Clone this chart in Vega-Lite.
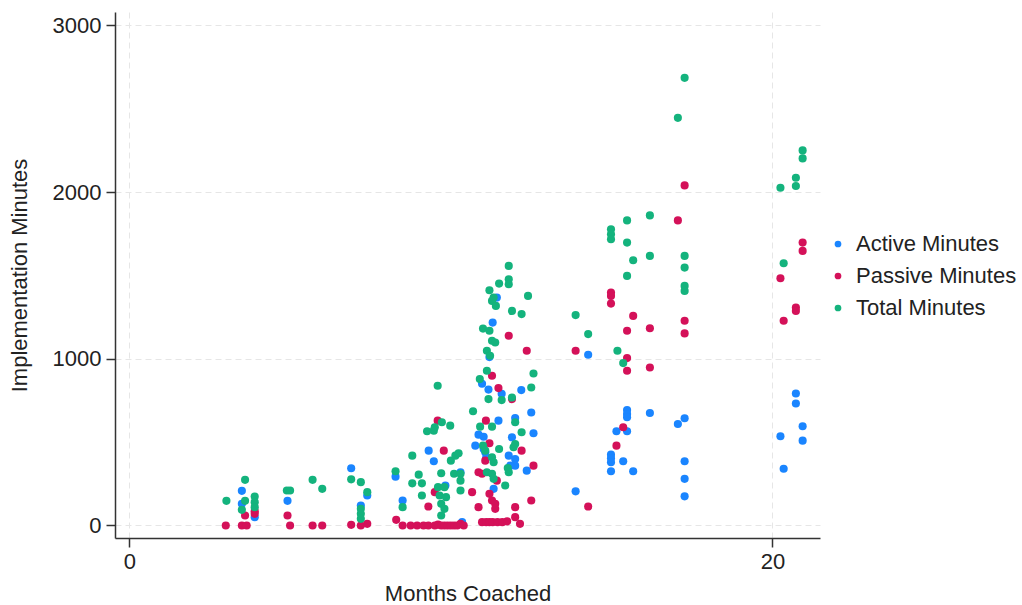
{
  "$schema": "https://vega.github.io/schema/vega-lite/v6.json",
  "width": 705,
  "height": 526,
  "autosize": {"type": "none"},
  "padding": {"left": 115, "top": 12, "right": 202, "bottom": 67},
  "background": "white",
  "config": {
    "view": {"stroke": null},
    "font": "Liberation Sans",
    "axis": {
      "labelFont": "Liberation Sans",
      "titleFont": "Liberation Sans",
      "labelFontSize": 22,
      "titleFontSize": 22,
      "titleFontWeight": "normal",
      "labelColor": "#222222",
      "titleColor": "#222222",
      "domainColor": "#333333",
      "tickColor": "#333333",
      "domainWidth": 1.5,
      "tickWidth": 1.5,
      "tickSize": 9,
      "gridColor": "#e6e6e6",
      "gridDash": [6, 4],
      "gridWidth": 1
    },
    "legend": {
      "labelFont": "Liberation Sans",
      "labelFontSize": 22,
      "labelColor": "#222222",
      "labelLimit": 0
    }
  },
  "data": {
    "values": [
      {"months": 3.5, "minutes": 208, "series": "Active Minutes"},
      {"months": 3.5, "minutes": 130, "series": "Active Minutes"},
      {"months": 3.9, "minutes": 50, "series": "Active Minutes"},
      {"months": 4.92, "minutes": 148, "series": "Active Minutes"},
      {"months": 6.9, "minutes": 343, "series": "Active Minutes"},
      {"months": 7.4, "minutes": 180, "series": "Active Minutes"},
      {"months": 7.2, "minutes": 120, "series": "Active Minutes"},
      {"months": 8.28, "minutes": 293, "series": "Active Minutes"},
      {"months": 8.5, "minutes": 150, "series": "Active Minutes"},
      {"months": 9.31, "minutes": 449, "series": "Active Minutes"},
      {"months": 9.47, "minutes": 385, "series": "Active Minutes"},
      {"months": 9.83, "minutes": 240, "series": "Active Minutes"},
      {"months": 10.3, "minutes": 319, "series": "Active Minutes"},
      {"months": 10.35, "minutes": 20, "series": "Active Minutes"},
      {"months": 10.76, "minutes": 479, "series": "Active Minutes"},
      {"months": 11.02, "minutes": 459, "series": "Active Minutes"},
      {"months": 10.86, "minutes": 545, "series": "Active Minutes"},
      {"months": 11.02, "minutes": 532, "series": "Active Minutes"},
      {"months": 11.9, "minutes": 529, "series": "Active Minutes"},
      {"months": 12.57, "minutes": 553, "series": "Active Minutes"},
      {"months": 11.07, "minutes": 439, "series": "Active Minutes"},
      {"months": 11.1, "minutes": 409, "series": "Active Minutes"},
      {"months": 11.8, "minutes": 419, "series": "Active Minutes"},
      {"months": 12.0, "minutes": 399, "series": "Active Minutes"},
      {"months": 12.0, "minutes": 359, "series": "Active Minutes"},
      {"months": 11.85, "minutes": 359, "series": "Active Minutes"},
      {"months": 12.36, "minutes": 329, "series": "Active Minutes"},
      {"months": 11.33, "minutes": 220, "series": "Active Minutes"},
      {"months": 11.48, "minutes": 629, "series": "Active Minutes"},
      {"months": 12.0, "minutes": 645, "series": "Active Minutes"},
      {"months": 12.5, "minutes": 678, "series": "Active Minutes"},
      {"months": 10.97, "minutes": 850, "series": "Active Minutes"},
      {"months": 11.17, "minutes": 815, "series": "Active Minutes"},
      {"months": 11.58, "minutes": 790, "series": "Active Minutes"},
      {"months": 12.19, "minutes": 812, "series": "Active Minutes"},
      {"months": 11.2, "minutes": 1010, "series": "Active Minutes"},
      {"months": 11.3, "minutes": 1217, "series": "Active Minutes"},
      {"months": 11.43, "minutes": 1367, "series": "Active Minutes"},
      {"months": 13.88, "minutes": 205, "series": "Active Minutes"},
      {"months": 14.27, "minutes": 1024, "series": "Active Minutes"},
      {"months": 14.98, "minutes": 425, "series": "Active Minutes"},
      {"months": 14.98, "minutes": 403, "series": "Active Minutes"},
      {"months": 14.98, "minutes": 379, "series": "Active Minutes"},
      {"months": 14.98, "minutes": 325, "series": "Active Minutes"},
      {"months": 15.15, "minutes": 565, "series": "Active Minutes"},
      {"months": 15.36, "minutes": 385, "series": "Active Minutes"},
      {"months": 15.48, "minutes": 565, "series": "Active Minutes"},
      {"months": 15.48, "minutes": 693, "series": "Active Minutes"},
      {"months": 15.48, "minutes": 669, "series": "Active Minutes"},
      {"months": 15.48, "minutes": 649, "series": "Active Minutes"},
      {"months": 15.67, "minutes": 325, "series": "Active Minutes"},
      {"months": 16.19, "minutes": 675, "series": "Active Minutes"},
      {"months": 17.06, "minutes": 609, "series": "Active Minutes"},
      {"months": 17.27, "minutes": 643, "series": "Active Minutes"},
      {"months": 17.27, "minutes": 385, "series": "Active Minutes"},
      {"months": 17.27, "minutes": 280, "series": "Active Minutes"},
      {"months": 17.27, "minutes": 175, "series": "Active Minutes"},
      {"months": 20.25, "minutes": 535, "series": "Active Minutes"},
      {"months": 20.35, "minutes": 340, "series": "Active Minutes"},
      {"months": 20.73, "minutes": 792, "series": "Active Minutes"},
      {"months": 20.73, "minutes": 732, "series": "Active Minutes"},
      {"months": 20.94, "minutes": 595, "series": "Active Minutes"},
      {"months": 20.94, "minutes": 509, "series": "Active Minutes"},

      {"months": 3.0, "minutes": 0, "series": "Passive Minutes"},
      {"months": 3.5, "minutes": 0, "series": "Passive Minutes"},
      {"months": 3.65, "minutes": 0, "series": "Passive Minutes"},
      {"months": 3.6, "minutes": 60, "series": "Passive Minutes"},
      {"months": 3.9, "minutes": 86, "series": "Passive Minutes"},
      {"months": 3.9, "minutes": 70, "series": "Passive Minutes"},
      {"months": 4.92, "minutes": 60, "series": "Passive Minutes"},
      {"months": 5.0, "minutes": 0, "series": "Passive Minutes"},
      {"months": 5.7, "minutes": 0, "series": "Passive Minutes"},
      {"months": 6.0, "minutes": 0, "series": "Passive Minutes"},
      {"months": 6.9, "minutes": 4, "series": "Passive Minutes"},
      {"months": 7.2, "minutes": 0, "series": "Passive Minutes"},
      {"months": 7.4, "minutes": 10, "series": "Passive Minutes"},
      {"months": 8.3, "minutes": 34, "series": "Passive Minutes"},
      {"months": 8.5, "minutes": 0, "series": "Passive Minutes"},
      {"months": 8.75, "minutes": 0, "series": "Passive Minutes"},
      {"months": 8.95, "minutes": 0, "series": "Passive Minutes"},
      {"months": 9.15, "minutes": 0, "series": "Passive Minutes"},
      {"months": 9.3, "minutes": 114, "series": "Passive Minutes"},
      {"months": 9.3, "minutes": 0, "series": "Passive Minutes"},
      {"months": 9.5, "minutes": 200, "series": "Passive Minutes"},
      {"months": 9.5, "minutes": 0, "series": "Passive Minutes"},
      {"months": 9.6, "minutes": 5, "series": "Passive Minutes"},
      {"months": 9.7, "minutes": 0, "series": "Passive Minutes"},
      {"months": 9.8, "minutes": 0, "series": "Passive Minutes"},
      {"months": 9.9, "minutes": 0, "series": "Passive Minutes"},
      {"months": 10.0, "minutes": 0, "series": "Passive Minutes"},
      {"months": 10.1, "minutes": 0, "series": "Passive Minutes"},
      {"months": 10.2, "minutes": 0, "series": "Passive Minutes"},
      {"months": 10.3, "minutes": 10, "series": "Passive Minutes"},
      {"months": 10.4, "minutes": 0, "series": "Passive Minutes"},
      {"months": 9.59, "minutes": 629, "series": "Passive Minutes"},
      {"months": 9.78, "minutes": 449, "series": "Passive Minutes"},
      {"months": 10.66, "minutes": 200, "series": "Passive Minutes"},
      {"months": 10.86, "minutes": 319, "series": "Passive Minutes"},
      {"months": 10.86, "minutes": 110, "series": "Passive Minutes"},
      {"months": 10.97, "minutes": 20, "series": "Passive Minutes"},
      {"months": 11.1, "minutes": 20, "series": "Passive Minutes"},
      {"months": 11.2, "minutes": 20, "series": "Passive Minutes"},
      {"months": 11.3, "minutes": 20, "series": "Passive Minutes"},
      {"months": 11.45, "minutes": 20, "series": "Passive Minutes"},
      {"months": 11.6, "minutes": 20, "series": "Passive Minutes"},
      {"months": 11.75, "minutes": 25, "series": "Passive Minutes"},
      {"months": 11.2, "minutes": 190, "series": "Passive Minutes"},
      {"months": 11.28, "minutes": 150, "series": "Passive Minutes"},
      {"months": 11.38, "minutes": 130, "series": "Passive Minutes"},
      {"months": 11.38, "minutes": 100, "series": "Passive Minutes"},
      {"months": 12.0, "minutes": 110, "series": "Passive Minutes"},
      {"months": 12.5, "minutes": 150, "series": "Passive Minutes"},
      {"months": 12.0, "minutes": 50, "series": "Passive Minutes"},
      {"months": 12.15, "minutes": 10, "series": "Passive Minutes"},
      {"months": 11.43, "minutes": 269, "series": "Passive Minutes"},
      {"months": 10.97, "minutes": 310, "series": "Passive Minutes"},
      {"months": 11.07, "minutes": 389, "series": "Passive Minutes"},
      {"months": 12.2, "minutes": 449, "series": "Passive Minutes"},
      {"months": 12.57, "minutes": 359, "series": "Passive Minutes"},
      {"months": 11.2, "minutes": 493, "series": "Passive Minutes"},
      {"months": 11.09, "minutes": 629, "series": "Passive Minutes"},
      {"months": 11.48, "minutes": 824, "series": "Passive Minutes"},
      {"months": 11.28, "minutes": 898, "series": "Passive Minutes"},
      {"months": 11.9, "minutes": 758, "series": "Passive Minutes"},
      {"months": 12.36, "minutes": 1048, "series": "Passive Minutes"},
      {"months": 11.8, "minutes": 1138, "series": "Passive Minutes"},
      {"months": 13.88, "minutes": 1048, "series": "Passive Minutes"},
      {"months": 14.27, "minutes": 114, "series": "Passive Minutes"},
      {"months": 14.98, "minutes": 1397, "series": "Passive Minutes"},
      {"months": 14.98, "minutes": 1377, "series": "Passive Minutes"},
      {"months": 14.98, "minutes": 1331, "series": "Passive Minutes"},
      {"months": 15.15, "minutes": 479, "series": "Passive Minutes"},
      {"months": 15.36, "minutes": 589, "series": "Passive Minutes"},
      {"months": 15.48, "minutes": 1168, "series": "Passive Minutes"},
      {"months": 15.48, "minutes": 1004, "series": "Passive Minutes"},
      {"months": 15.48, "minutes": 928, "series": "Passive Minutes"},
      {"months": 15.67, "minutes": 1257, "series": "Passive Minutes"},
      {"months": 16.19, "minutes": 1183, "series": "Passive Minutes"},
      {"months": 16.19, "minutes": 948, "series": "Passive Minutes"},
      {"months": 17.06, "minutes": 1830, "series": "Passive Minutes"},
      {"months": 17.27, "minutes": 2040, "series": "Passive Minutes"},
      {"months": 17.27, "minutes": 1228, "series": "Passive Minutes"},
      {"months": 17.27, "minutes": 1152, "series": "Passive Minutes"},
      {"months": 20.25, "minutes": 1483, "series": "Passive Minutes"},
      {"months": 20.35, "minutes": 1228, "series": "Passive Minutes"},
      {"months": 20.73, "minutes": 1307, "series": "Passive Minutes"},
      {"months": 20.73, "minutes": 1287, "series": "Passive Minutes"},
      {"months": 20.94, "minutes": 1697, "series": "Passive Minutes"},
      {"months": 20.94, "minutes": 1647, "series": "Passive Minutes"},

      {"months": 3.02, "minutes": 148, "series": "Total Minutes"},
      {"months": 3.6, "minutes": 274, "series": "Total Minutes"},
      {"months": 3.6, "minutes": 148, "series": "Total Minutes"},
      {"months": 3.5, "minutes": 94, "series": "Total Minutes"},
      {"months": 3.9, "minutes": 174, "series": "Total Minutes"},
      {"months": 3.9, "minutes": 140, "series": "Total Minutes"},
      {"months": 3.9, "minutes": 110, "series": "Total Minutes"},
      {"months": 4.9, "minutes": 210, "series": "Total Minutes"},
      {"months": 5.0, "minutes": 210, "series": "Total Minutes"},
      {"months": 5.7, "minutes": 274, "series": "Total Minutes"},
      {"months": 6.0, "minutes": 220, "series": "Total Minutes"},
      {"months": 6.9, "minutes": 277, "series": "Total Minutes"},
      {"months": 7.2, "minutes": 260, "series": "Total Minutes"},
      {"months": 7.4, "minutes": 200, "series": "Total Minutes"},
      {"months": 7.2, "minutes": 100, "series": "Total Minutes"},
      {"months": 7.2, "minutes": 70, "series": "Total Minutes"},
      {"months": 7.2, "minutes": 40, "series": "Total Minutes"},
      {"months": 8.28, "minutes": 325, "series": "Total Minutes"},
      {"months": 8.5, "minutes": 110, "series": "Total Minutes"},
      {"months": 8.8, "minutes": 419, "series": "Total Minutes"},
      {"months": 9.0, "minutes": 305, "series": "Total Minutes"},
      {"months": 8.8, "minutes": 253, "series": "Total Minutes"},
      {"months": 9.1, "minutes": 253, "series": "Total Minutes"},
      {"months": 9.1, "minutes": 180, "series": "Total Minutes"},
      {"months": 9.7, "minutes": 313, "series": "Total Minutes"},
      {"months": 10.0, "minutes": 389, "series": "Total Minutes"},
      {"months": 10.14, "minutes": 419, "series": "Total Minutes"},
      {"months": 10.24, "minutes": 433, "series": "Total Minutes"},
      {"months": 10.1, "minutes": 310, "series": "Total Minutes"},
      {"months": 10.3, "minutes": 310, "series": "Total Minutes"},
      {"months": 10.3, "minutes": 269, "series": "Total Minutes"},
      {"months": 10.3, "minutes": 210, "series": "Total Minutes"},
      {"months": 9.6, "minutes": 230, "series": "Total Minutes"},
      {"months": 9.8, "minutes": 230, "series": "Total Minutes"},
      {"months": 9.65, "minutes": 180, "series": "Total Minutes"},
      {"months": 9.85, "minutes": 170, "series": "Total Minutes"},
      {"months": 9.7, "minutes": 130, "series": "Total Minutes"},
      {"months": 9.8, "minutes": 100, "series": "Total Minutes"},
      {"months": 9.7, "minutes": 60, "series": "Total Minutes"},
      {"months": 9.59, "minutes": 838, "series": "Total Minutes"},
      {"months": 9.72, "minutes": 619, "series": "Total Minutes"},
      {"months": 9.98, "minutes": 599, "series": "Total Minutes"},
      {"months": 9.26, "minutes": 565, "series": "Total Minutes"},
      {"months": 9.47, "minutes": 569, "series": "Total Minutes"},
      {"months": 9.5, "minutes": 589, "series": "Total Minutes"},
      {"months": 10.69, "minutes": 685, "series": "Total Minutes"},
      {"months": 10.9, "minutes": 878, "series": "Total Minutes"},
      {"months": 11.12, "minutes": 928, "series": "Total Minutes"},
      {"months": 11.12, "minutes": 1048, "series": "Total Minutes"},
      {"months": 11.22, "minutes": 1018, "series": "Total Minutes"},
      {"months": 11.17, "minutes": 758, "series": "Total Minutes"},
      {"months": 11.58, "minutes": 752, "series": "Total Minutes"},
      {"months": 11.9, "minutes": 768, "series": "Total Minutes"},
      {"months": 12.5, "minutes": 828, "series": "Total Minutes"},
      {"months": 12.57, "minutes": 912, "series": "Total Minutes"},
      {"months": 10.91, "minutes": 593, "series": "Total Minutes"},
      {"months": 11.28, "minutes": 593, "series": "Total Minutes"},
      {"months": 12.0, "minutes": 619, "series": "Total Minutes"},
      {"months": 12.2, "minutes": 559, "series": "Total Minutes"},
      {"months": 12.0, "minutes": 489, "series": "Total Minutes"},
      {"months": 11.95, "minutes": 469, "series": "Total Minutes"},
      {"months": 11.0, "minutes": 479, "series": "Total Minutes"},
      {"months": 11.07, "minutes": 449, "series": "Total Minutes"},
      {"months": 11.5, "minutes": 459, "series": "Total Minutes"},
      {"months": 11.28, "minutes": 409, "series": "Total Minutes"},
      {"months": 11.33, "minutes": 379, "series": "Total Minutes"},
      {"months": 11.77, "minutes": 345, "series": "Total Minutes"},
      {"months": 11.8, "minutes": 319, "series": "Total Minutes"},
      {"months": 11.12, "minutes": 319, "series": "Total Minutes"},
      {"months": 11.28, "minutes": 310, "series": "Total Minutes"},
      {"months": 11.33, "minutes": 280, "series": "Total Minutes"},
      {"months": 11.69, "minutes": 240, "series": "Total Minutes"},
      {"months": 11.0, "minutes": 1181, "series": "Total Minutes"},
      {"months": 11.2, "minutes": 1168, "series": "Total Minutes"},
      {"months": 11.28, "minutes": 1108, "series": "Total Minutes"},
      {"months": 11.38, "minutes": 1098, "series": "Total Minutes"},
      {"months": 11.33, "minutes": 1367, "series": "Total Minutes"},
      {"months": 11.28, "minutes": 1347, "series": "Total Minutes"},
      {"months": 11.4, "minutes": 1317, "series": "Total Minutes"},
      {"months": 11.2, "minutes": 1411, "series": "Total Minutes"},
      {"months": 11.5, "minutes": 1451, "series": "Total Minutes"},
      {"months": 11.8, "minutes": 1477, "series": "Total Minutes"},
      {"months": 11.8, "minutes": 1447, "series": "Total Minutes"},
      {"months": 11.8, "minutes": 1557, "series": "Total Minutes"},
      {"months": 11.9, "minutes": 1287, "series": "Total Minutes"},
      {"months": 12.2, "minutes": 1268, "series": "Total Minutes"},
      {"months": 12.4, "minutes": 1377, "series": "Total Minutes"},
      {"months": 13.88, "minutes": 1262, "series": "Total Minutes"},
      {"months": 14.27, "minutes": 1148, "series": "Total Minutes"},
      {"months": 14.98, "minutes": 1777, "series": "Total Minutes"},
      {"months": 14.98, "minutes": 1747, "series": "Total Minutes"},
      {"months": 14.98, "minutes": 1717, "series": "Total Minutes"},
      {"months": 15.18, "minutes": 1048, "series": "Total Minutes"},
      {"months": 15.36, "minutes": 974, "series": "Total Minutes"},
      {"months": 15.48, "minutes": 1830, "series": "Total Minutes"},
      {"months": 15.48, "minutes": 1697, "series": "Total Minutes"},
      {"months": 15.48, "minutes": 1497, "series": "Total Minutes"},
      {"months": 15.67, "minutes": 1591, "series": "Total Minutes"},
      {"months": 16.19, "minutes": 1860, "series": "Total Minutes"},
      {"months": 16.19, "minutes": 1617, "series": "Total Minutes"},
      {"months": 17.06, "minutes": 2445, "series": "Total Minutes"},
      {"months": 17.27, "minutes": 2685, "series": "Total Minutes"},
      {"months": 17.27, "minutes": 1617, "series": "Total Minutes"},
      {"months": 17.27, "minutes": 1547, "series": "Total Minutes"},
      {"months": 17.27, "minutes": 1437, "series": "Total Minutes"},
      {"months": 17.27, "minutes": 1407, "series": "Total Minutes"},
      {"months": 20.25, "minutes": 2026, "series": "Total Minutes"},
      {"months": 20.35, "minutes": 1573, "series": "Total Minutes"},
      {"months": 20.73, "minutes": 2086, "series": "Total Minutes"},
      {"months": 20.73, "minutes": 2036, "series": "Total Minutes"},
      {"months": 20.94, "minutes": 2250, "series": "Total Minutes"},
      {"months": 20.94, "minutes": 2202, "series": "Total Minutes"}
    ]
  },
  "mark": {"type": "circle", "size": 66, "opacity": 1},
  "encoding": {
    "x": {
      "field": "months",
      "type": "quantitative",
      "title": "Months Coached",
      "scale": {"domain": [-0.445, 21.48], "nice": false, "zero": false},
      "axis": {"values": [0, 20], "format": "d", "grid": true, "labelPadding": 4, "titlePadding": 11, "labelFlush": false}
    },
    "y": {
      "field": "minutes",
      "type": "quantitative",
      "title": "Implementation Minutes",
      "scale": {"domain": [-75, 3080], "nice": false, "zero": false},
      "axis": {"values": [0, 1000, 2000, 3000], "format": "d", "grid": true, "labelPadding": 5, "titlePadding": 21, "labelFlush": false}
    },
    "color": {
      "field": "series",
      "type": "nominal",
      "scale": {
        "domain": ["Active Minutes", "Passive Minutes", "Total Minutes"],
        "range": ["#1a85ff", "#d41159", "#14b37d"]
      },
      "legend": {
        "title": null,
        "orient": "none",
        "legendX": 712,
        "legendY": 221,
        "symbolType": "circle",
        "symbolSize": 45,
        "symbolOpacity": 1,
        "labelOffset": 7,
        "labelLimit": 0,
        "rowPadding": 10,
        "padding": 0
      }
    },
    "order": {"field": "series", "type": "nominal"}
  }
}
